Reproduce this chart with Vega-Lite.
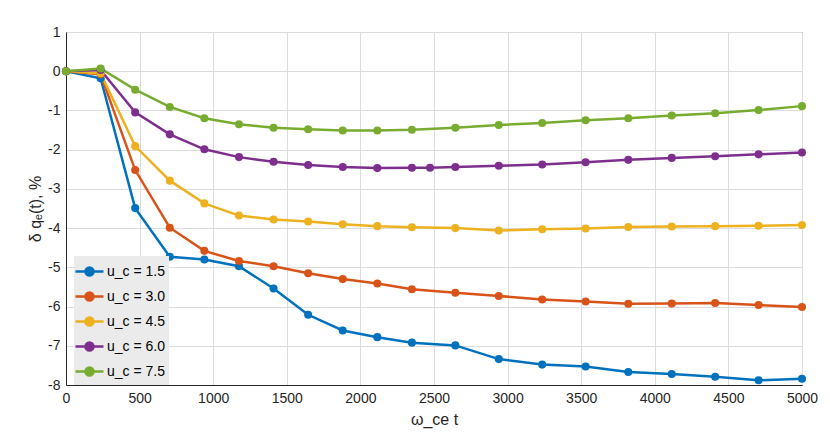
{
  "$schema": "https://vega.github.io/schema/vega-lite/v6.json",
  "autosize": "none",
  "width": 736,
  "height": 353,
  "padding": {"left": 66, "top": 32, "right": 28, "bottom": 54},
  "background": "white",
  "data": {
    "values": [
      {"t": 0, "dq": 0, "uc": "u_c = 1.5"},
      {"t": 235, "dq": -0.18, "uc": "u_c = 1.5"},
      {"t": 470, "dq": -3.49, "uc": "u_c = 1.5"},
      {"t": 705, "dq": -4.73, "uc": "u_c = 1.5"},
      {"t": 940, "dq": -4.8, "uc": "u_c = 1.5"},
      {"t": 1175, "dq": -4.97, "uc": "u_c = 1.5"},
      {"t": 1410, "dq": -5.54, "uc": "u_c = 1.5"},
      {"t": 1645, "dq": -6.21, "uc": "u_c = 1.5"},
      {"t": 1880, "dq": -6.61, "uc": "u_c = 1.5"},
      {"t": 2115, "dq": -6.78, "uc": "u_c = 1.5"},
      {"t": 2350, "dq": -6.92, "uc": "u_c = 1.5"},
      {"t": 2645, "dq": -6.99, "uc": "u_c = 1.5"},
      {"t": 2940, "dq": -7.34, "uc": "u_c = 1.5"},
      {"t": 3235, "dq": -7.48, "uc": "u_c = 1.5"},
      {"t": 3530, "dq": -7.53, "uc": "u_c = 1.5"},
      {"t": 3820, "dq": -7.67, "uc": "u_c = 1.5"},
      {"t": 4115, "dq": -7.72, "uc": "u_c = 1.5"},
      {"t": 4410, "dq": -7.79, "uc": "u_c = 1.5"},
      {"t": 4705, "dq": -7.88, "uc": "u_c = 1.5"},
      {"t": 5000, "dq": -7.84, "uc": "u_c = 1.5"},
      {"t": 0, "dq": 0, "uc": "u_c = 3.0"},
      {"t": 235, "dq": -0.08, "uc": "u_c = 3.0"},
      {"t": 470, "dq": -2.52, "uc": "u_c = 3.0"},
      {"t": 705, "dq": -3.99, "uc": "u_c = 3.0"},
      {"t": 940, "dq": -4.58, "uc": "u_c = 3.0"},
      {"t": 1175, "dq": -4.84, "uc": "u_c = 3.0"},
      {"t": 1410, "dq": -4.97, "uc": "u_c = 3.0"},
      {"t": 1645, "dq": -5.15, "uc": "u_c = 3.0"},
      {"t": 1880, "dq": -5.3, "uc": "u_c = 3.0"},
      {"t": 2115, "dq": -5.41, "uc": "u_c = 3.0"},
      {"t": 2350, "dq": -5.56, "uc": "u_c = 3.0"},
      {"t": 2645, "dq": -5.65, "uc": "u_c = 3.0"},
      {"t": 2940, "dq": -5.73, "uc": "u_c = 3.0"},
      {"t": 3235, "dq": -5.82, "uc": "u_c = 3.0"},
      {"t": 3530, "dq": -5.87, "uc": "u_c = 3.0"},
      {"t": 3820, "dq": -5.93, "uc": "u_c = 3.0"},
      {"t": 4115, "dq": -5.92, "uc": "u_c = 3.0"},
      {"t": 4410, "dq": -5.91, "uc": "u_c = 3.0"},
      {"t": 4705, "dq": -5.96, "uc": "u_c = 3.0"},
      {"t": 5000, "dq": -6.01, "uc": "u_c = 3.0"},
      {"t": 0, "dq": 0, "uc": "u_c = 4.5"},
      {"t": 235, "dq": -0.05, "uc": "u_c = 4.5"},
      {"t": 470, "dq": -1.91, "uc": "u_c = 4.5"},
      {"t": 705, "dq": -2.79, "uc": "u_c = 4.5"},
      {"t": 940, "dq": -3.37, "uc": "u_c = 4.5"},
      {"t": 1175, "dq": -3.68, "uc": "u_c = 4.5"},
      {"t": 1410, "dq": -3.78, "uc": "u_c = 4.5"},
      {"t": 1645, "dq": -3.83, "uc": "u_c = 4.5"},
      {"t": 1880, "dq": -3.9, "uc": "u_c = 4.5"},
      {"t": 2115, "dq": -3.95, "uc": "u_c = 4.5"},
      {"t": 2350, "dq": -3.98, "uc": "u_c = 4.5"},
      {"t": 2645, "dq": -4.0, "uc": "u_c = 4.5"},
      {"t": 2940, "dq": -4.06, "uc": "u_c = 4.5"},
      {"t": 3235, "dq": -4.03, "uc": "u_c = 4.5"},
      {"t": 3530, "dq": -4.01, "uc": "u_c = 4.5"},
      {"t": 3820, "dq": -3.97, "uc": "u_c = 4.5"},
      {"t": 4115, "dq": -3.96, "uc": "u_c = 4.5"},
      {"t": 4410, "dq": -3.95, "uc": "u_c = 4.5"},
      {"t": 4705, "dq": -3.94, "uc": "u_c = 4.5"},
      {"t": 5000, "dq": -3.92, "uc": "u_c = 4.5"},
      {"t": 0, "dq": 0, "uc": "u_c = 6.0"},
      {"t": 235, "dq": 0.03, "uc": "u_c = 6.0"},
      {"t": 470, "dq": -1.05, "uc": "u_c = 6.0"},
      {"t": 705, "dq": -1.61, "uc": "u_c = 6.0"},
      {"t": 940, "dq": -1.99, "uc": "u_c = 6.0"},
      {"t": 1175, "dq": -2.19, "uc": "u_c = 6.0"},
      {"t": 1410, "dq": -2.31, "uc": "u_c = 6.0"},
      {"t": 1645, "dq": -2.39, "uc": "u_c = 6.0"},
      {"t": 1880, "dq": -2.44, "uc": "u_c = 6.0"},
      {"t": 2115, "dq": -2.47, "uc": "u_c = 6.0"},
      {"t": 2350, "dq": -2.46, "uc": "u_c = 6.0"},
      {"t": 2473, "dq": -2.46, "uc": "u_c = 6.0"},
      {"t": 2645, "dq": -2.44, "uc": "u_c = 6.0"},
      {"t": 2940, "dq": -2.41, "uc": "u_c = 6.0"},
      {"t": 3235, "dq": -2.38, "uc": "u_c = 6.0"},
      {"t": 3530, "dq": -2.32, "uc": "u_c = 6.0"},
      {"t": 3820, "dq": -2.26, "uc": "u_c = 6.0"},
      {"t": 4115, "dq": -2.21, "uc": "u_c = 6.0"},
      {"t": 4410, "dq": -2.17, "uc": "u_c = 6.0"},
      {"t": 4705, "dq": -2.12, "uc": "u_c = 6.0"},
      {"t": 5000, "dq": -2.07, "uc": "u_c = 6.0"},
      {"t": 0, "dq": 0, "uc": "u_c = 7.5"},
      {"t": 235, "dq": 0.07, "uc": "u_c = 7.5"},
      {"t": 470, "dq": -0.47, "uc": "u_c = 7.5"},
      {"t": 705, "dq": -0.91, "uc": "u_c = 7.5"},
      {"t": 940, "dq": -1.2, "uc": "u_c = 7.5"},
      {"t": 1175, "dq": -1.35, "uc": "u_c = 7.5"},
      {"t": 1410, "dq": -1.44, "uc": "u_c = 7.5"},
      {"t": 1645, "dq": -1.48, "uc": "u_c = 7.5"},
      {"t": 1880, "dq": -1.51, "uc": "u_c = 7.5"},
      {"t": 2115, "dq": -1.51, "uc": "u_c = 7.5"},
      {"t": 2350, "dq": -1.49, "uc": "u_c = 7.5"},
      {"t": 2645, "dq": -1.44, "uc": "u_c = 7.5"},
      {"t": 2940, "dq": -1.37, "uc": "u_c = 7.5"},
      {"t": 3235, "dq": -1.32, "uc": "u_c = 7.5"},
      {"t": 3530, "dq": -1.25, "uc": "u_c = 7.5"},
      {"t": 3820, "dq": -1.2, "uc": "u_c = 7.5"},
      {"t": 4115, "dq": -1.13, "uc": "u_c = 7.5"},
      {"t": 4410, "dq": -1.07, "uc": "u_c = 7.5"},
      {"t": 4705, "dq": -0.99, "uc": "u_c = 7.5"},
      {"t": 5000, "dq": -0.89, "uc": "u_c = 7.5"}
    ]
  },
  "encoding": {
    "x": {
      "field": "t",
      "type": "quantitative",
      "title": "ω_ce t",
      "scale": {"domain": [0, 5000], "nice": false, "zero": false},
      "axis": {
        "values": [0, 500, 1000, 1500, 2000, 2500, 3000, 3500, 4000, 4500, 5000],
        "labelExpr": "datum.value + ''",
        "labelFlush": false,
        "titlePadding": 6
      }
    },
    "y": {
      "field": "dq",
      "type": "quantitative",
      "title": "δ qₑ(t), %",
      "scale": {"domain": [-8, 1], "nice": false, "zero": false},
      "axis": {
        "values": [-8, -7, -6, -5, -4, -3, -2, -1, 0, 1],
        "labelExpr": "datum.value + ''",
        "labelFlush": false,
        "titlePadding": 4
      }
    },
    "color": {
      "field": "uc",
      "type": "nominal",
      "title": null,
      "scale": {"range": ["#0072BD", "#D95319", "#EDB120", "#7E2F8E", "#77AC30"]},
      "legend": {
        "orient": "none",
        "legendX": 8,
        "legendY": 224,
        "fillColor": "#ebebeb",
        "padding": 4,
        "symbolType": "M-1.4,0L1.4,0M-0.4,0A0.4,0.4 0 1,1 0.4,0A0.4,0.4 0 1,1 -0.4,0Z",
        "symbolSize": 400,
        "symbolStrokeWidth": 2.5,
        "labelFontSize": 14,
        "labelFont": "Liberation Sans",
        "labelColor": "#000000",
        "labelOffset": 6,
        "rowPadding": 4
      }
    }
  },
  "layer": [
    {"mark": {"type": "line", "strokeWidth": 2.5}},
    {"mark": {"type": "point", "filled": true, "size": 65, "opacity": 1}}
  ],
  "config": {
    "view": {"stroke": "#262626", "strokeWidth": 1},
    "font": "Liberation Sans",
    "axis": {
      "labelFont": "Liberation Sans",
      "labelFontSize": 14,
      "labelColor": "#262626",
      "titleFont": "Liberation Sans",
      "titleFontSize": 16,
      "titleFontWeight": "normal",
      "titleColor": "#262626",
      "gridColor": "#dcdcdc",
      "gridWidth": 1,
      "domainColor": "#262626",
      "ticks": false,
      "labelPadding": 6
    }
  }
}
